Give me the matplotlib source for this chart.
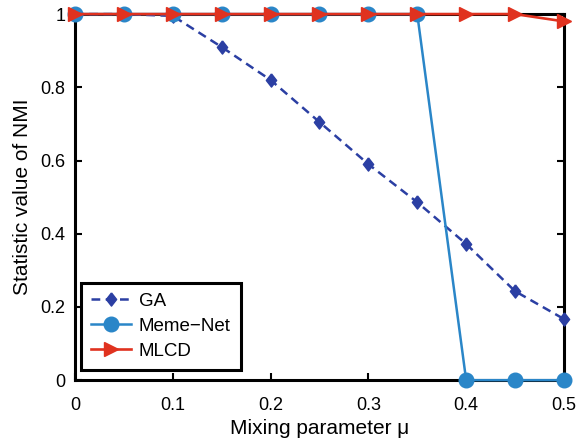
import matplotlib
matplotlib.use("Agg")
import matplotlib.pyplot as plt

plt.rcParams["font.family"] = ["Liberation Sans", "DejaVu Sans"]

mu = [0, 0.05, 0.1, 0.15, 0.2, 0.25, 0.3, 0.35, 0.4, 0.45, 0.5]
ga = [1.0, 1.0, 0.995, 0.91, 0.82, 0.705, 0.59, 0.486, 0.372, 0.243, 0.167]
meme_net = [1, 1, 1, 1, 1, 1, 1, 1, 0, 0, 0]
mlcd = [1, 1, 1, 1, 1, 1, 1, 1, 1, 1, 0.98]

# diamond a little narrower than it is tall
diamond = [(0, 1), (0.78, 0), (0, -1), (-0.78, 0), (0, 1)]

fig = plt.figure(figsize=(5.79, 4.4), dpi=100)
ax = fig.add_axes([0.1295, 0.136, 0.8445, 0.832])

ax.plot(mu, ga, "--", color="#2b3fa3", marker=diamond, markersize=9.5,
        linewidth=1.8, dashes=(3.5, 2.2), label="GA", clip_on=False, zorder=3)
ax.plot(mu, meme_net, "-", color="#2a86c8", marker="o", markersize=10.5,
        linewidth=1.8, label="Meme\u2212Net", clip_on=False, zorder=4)
ax.plot(mu, mlcd, "-", color="#e0321f", marker=">", markersize=9.5,
        linewidth=1.9, label="MLCD", clip_on=False, zorder=5)

ax.set_xlim(0, 0.5)
ax.set_ylim(0, 1)
ax.set_xticks([0, 0.1, 0.2, 0.3, 0.4, 0.5])
ax.set_xticklabels(["0", "0.1", "0.2", "0.3", "0.4", "0.5"])
ax.set_yticks([0, 0.2, 0.4, 0.6, 0.8, 1.0])
ax.set_yticklabels(["0", "0.2", "0.4", "0.6", "0.8", "1"])
ax.tick_params(axis="both", direction="in", length=5, width=1.5,
               labelsize=13, right=True, top=False)
ax.tick_params(axis="x", pad=12)
ax.tick_params(axis="y", pad=7)
for s in ax.spines.values():
    s.set_linewidth(2.2)

ax.set_xlabel("Mixing parameter \u03bc", fontsize=15, labelpad=4)
ax.set_ylabel("Statistic value of NMI", fontsize=15, labelpad=6)

leg = ax.legend(loc="lower left", bbox_to_anchor=(0.012, 0.027),
                borderaxespad=0, fontsize=13.5, fancybox=False, framealpha=1,
                edgecolor="black", handlelength=2.1, handletextpad=0.45,
                borderpad=0.55, labelspacing=0.42)
leg.get_frame().set_linewidth(2.2)
leg.set_zorder(10)

fig.savefig("out.png", dpi=100)
